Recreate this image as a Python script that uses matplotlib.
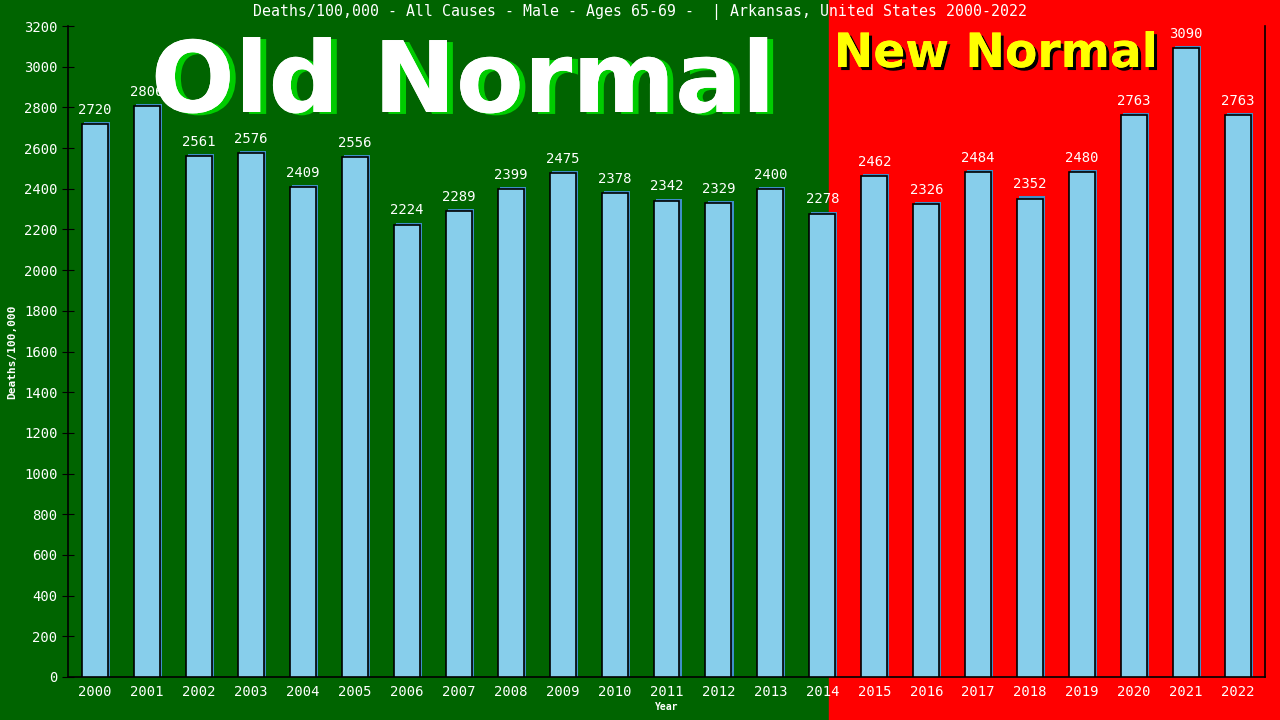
import numpy as np
import matplotlib
matplotlib.use("Agg")
import matplotlib.pyplot as plt
import matplotlib.patheffects as pe

# data
years = list(range(2000, 2023))
deaths = [2720, 2806, 2561, 2576, 2409, 2556, 2224, 2289, 2399, 2475, 2378, 2342,
          2329, 2400, 2278, 2462, 2326, 2484, 2352, 2480, 2763, 3090, 2763]
yticks = list(range(0, 3201, 200))
split_year = 2014.12  # where green turns to red

title = "Deaths/100,000 - All Causes - Male - Ages 65-69 -  | Arkansas, United States 2000-2022"

green = "#006400"
red = "#ff0000"
mono = "DejaVu Sans Mono"

fig = plt.figure(figsize=(12.8, 7.2), dpi=100)
fig.patch.set_facecolor(green)
ax = fig.add_axes([68/1280, 43/720, (1265-68)/1280, (677-26)/720])
ax.patch.set_alpha(0)

# red "new normal" background, reaching past the axes to the figure edges
ax.axvspan(split_year, 2040, ymin=-0.2, ymax=1.2, color=red, clip_on=False, zorder=0)

x = np.array(years)
# thin blue shadow behind each bar
ax.bar(x + 0.04, np.array(deaths) + 10, width=0.5, color="#3f8fc8", zorder=2)
ax.bar(x, deaths, width=0.5, color="#87ceeb", edgecolor="black", linewidth=1.2, zorder=3)

for xi, v in zip(x, deaths):
    ax.text(xi, v + 35, str(v), ha="center", va="bottom", color="white",
            fontsize=10, family=mono, zorder=4)

ax.set_xlim(1999.48, 2022.52)
ax.set_ylim(0, 3200)
ax.set_xticks(years)
ax.set_xticklabels([str(y) for y in years])
ax.set_yticks(yticks)
ax.tick_params(axis="x", length=0, colors="white", labelsize=10, pad=6)
ax.tick_params(axis="y", direction="inout", length=8, colors="white", labelsize=10)
for lab in ax.get_xticklabels() + ax.get_yticklabels():
    lab.set_family(mono)
    lab.set_color("white")
ax.tick_params(axis="y", color="black")

ax.spines["top"].set_visible(False)
for s in ["left", "bottom", "right"]:
    ax.spines[s].set_color("black")
    ax.spines[s].set_linewidth(1.2)

ax.set_xlabel("Year", color="white", fontsize=7, family=mono, fontweight="bold", labelpad=2)
fig.text(12/1280, 1 - 352/720, "Deaths/100,000", rotation=90, ha="center", va="center",
         color="white", fontsize=8, family=mono, fontweight="bold")

fig.text(0.5, 1 - 12/720, title, ha="center", va="center", color="white",
         fontsize=10.7, family=mono)

# big overlay labels
fig.text(463/1280, 1 - 112/720, "Old Normal", ha="center", va="baseline", color="white",
         fontsize=71, family="DejaVu Sans", fontweight="bold", zorder=10,
         path_effects=[pe.withSimplePatchShadow(offset=(4.3, -1.4), shadow_rgbFace="#00cc00", alpha=1),
                       pe.Normal()])
fig.text(996/1280, 1 - 67/720, "New Normal", ha="center", va="baseline", color="#ffff00",
         fontsize=34, family="DejaVu Sans", fontweight="bold", zorder=10,
         path_effects=[pe.withSimplePatchShadow(offset=(2.2, -2.2), shadow_rgbFace="black", alpha=1),
                       pe.Normal()])

plt.savefig("out.png", dpi=100, facecolor=fig.get_facecolor())
